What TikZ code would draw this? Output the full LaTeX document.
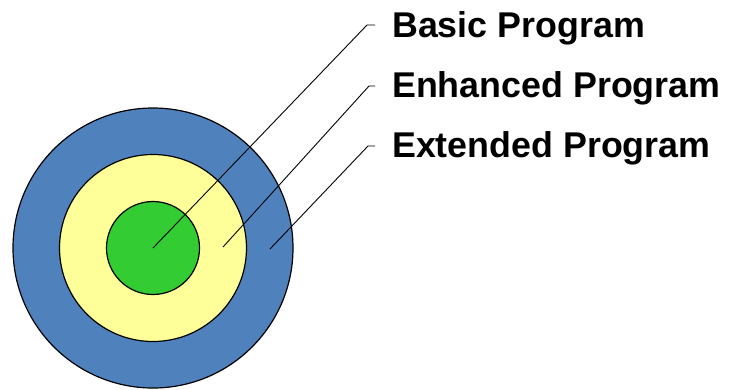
\documentclass[tikz,border=0pt]{standalone}
\usepackage{fontspec}
\setmainfont{Liberation Sans}
\definecolor{ringblue}{HTML}{4F81BD}
\definecolor{ringyellow}{HTML}{FFFF99}
\definecolor{ringgreen}{HTML}{33CC33}
\begin{document}
\begin{tikzpicture}[x=1pt,y=-1pt,
  ring/.style={circle,draw=black,line width=1.2pt,inner sep=0pt},
  lbl/.style={anchor=base west,inner sep=0pt,font=\fontsize{35.8}{40}\selectfont\bfseries},
  leader/.style={draw=black,line width=0.9pt}]
\useasboundingbox (0,0) rectangle (736,389);
\node[ring,fill=ringblue,minimum size=280pt] (outer) at (153,248) {};
\node[ring,fill=ringyellow,minimum size=187pt] (mid) at (153,248) {};
\node[ring,fill=ringgreen,minimum size=93pt] (inner) at (153,248) {};
\coordinate (pb) at (153,248);
\coordinate (pe) at (223,247);
\coordinate (px) at (270,249);
\node[lbl] (basic) at (392,37) {Basic Program};
\node[lbl] (enh) at (392,97) {Enhanced Program};
\node[lbl] (ext) at (392,157) {Extended Program};
\coordinate (cb) at (367,25);
\coordinate (ce) at (369,86);
\coordinate (cx) at (368,146);
\draw[leader] (pb) -- (cb) -- ([xshift=-17pt]basic.west |- cb);
\draw[leader] (pe) -- (ce) -- ([xshift=-17pt]enh.west |- ce);
\draw[leader] (px) -- (cx) -- ([xshift=-17pt]ext.west |- cx);
\end{tikzpicture}
\end{document}
